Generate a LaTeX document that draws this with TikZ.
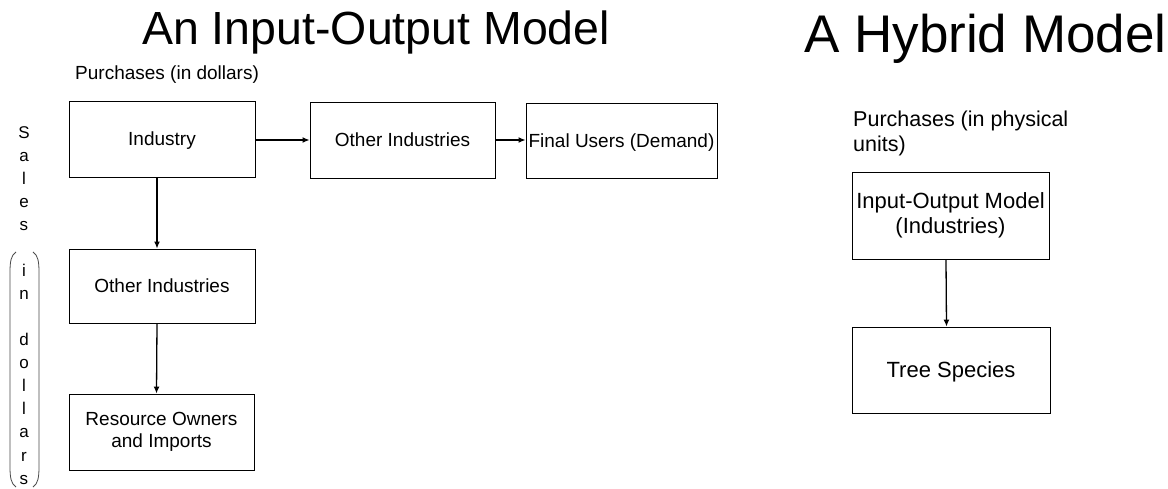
\documentclass[tikz,border=0pt]{standalone}
\usepackage{fontspec}
\setmainfont{Liberation Sans}
\usetikzlibrary{arrows.meta}
\begin{document}
\begin{tikzpicture}[x=1pt,y=-1pt,
  box/.style={draw=black,line width=0.9pt,inner sep=0pt,font=\fontsize{19}{22}\selectfont},
  sbox/.style={box,text height=17pt,text depth=3pt},
  mbox/.style={box,align=center},
  rsbox/.style={box,font=\fontsize{22}{25}\selectfont,text height=19.5pt,text depth=3.75pt},
  rmbox/.style={box,align=center,font=\fontsize{22}{25}\selectfont},
  arr/.style={line width=1.3pt,-{Latex[length=7pt,width=6pt]}},
  brk/.style={draw=black!70,line width=0.8pt}]
\fill[white] (0,0) rectangle (1168,489);
\useasboundingbox (0,0) rectangle (1168,489);
% titles
\node[anchor=base west,inner sep=0pt,font=\fontsize{46.5}{50}\selectfont] (t1) at (142,45) {An Input-Output Model};
\node[anchor=base west,inner sep=0pt,font=\fontsize{53}{57}\selectfont] (t2) at (804,53) {A Hybrid Model};
% purchases labels
\node[anchor=base west,inner sep=0pt,font=\fontsize{19}{22}\selectfont] (p1) at (75,80) {Purchases (in dollars)};
\node[anchor=north west,inner sep=0pt,align=left,font=\fontsize{21.5}{25}\selectfont] (p2) at (853,111) {Purchases (in physical\\units)};
% boxes left
\node[sbox,minimum width=186pt,minimum height=76pt] (ind) at (162,139) {Industry};
\node[sbox,minimum width=185pt,minimum height=76pt] (oth1) at (402.5,140) {Other Industries};
\node[sbox,minimum width=191pt,minimum height=75pt] (fin) at (621.5,140.5) {Final Users (Demand)};
\node[sbox,minimum width=186pt,minimum height=74pt] (oth2) at (162,286) {Other Industries};
\node[mbox,minimum width=185pt,minimum height=76pt] (res) at (161.5,432) {Resource Owners\\and Imports};
% boxes right
\node[rmbox,minimum width=197pt,minimum height=87pt] (iom) at (950.5,215.5) {Input-Output Model\\(Industries)};
\node[rsbox,minimum width=198pt,minimum height=86pt] (tree) at (951,370) {Tree Species};
% arrows
\draw[arr] (ind.east |- oth1.west) -- (oth1.west);
\draw[arr] (oth1.east) -- (fin.west |- oth1.east);
\draw[arr] ([xshift=-5pt]ind.south) -- ([xshift=-5pt]oth2.north);
\draw[arr] ([xshift=-5pt]oth2.south) -- ([xshift=-5pt]res.north);
\draw[arr] ([xshift=-4.5pt]iom.south) -- ([xshift=-4.5pt]tree.south |- tree.north);
% sales label
\node[anchor=north,inner sep=0pt,align=center,font=\fontsize{17}{23.07}\selectfont] (sales) at (24,126)
  {S\\a\\l\\e\\s\\[23.07pt]i\\n\\[23.07pt]d\\o\\l\\l\\a\\r\\s};
% brackets
\draw[brk] (16,252) .. controls (11,255) and (10,262) .. (10,272) -- (10,467) .. controls (10,477) and (11,484) .. (16,487);
\draw[brk] (33,252) .. controls (38,255) and (39,262) .. (39,272) -- (39,467) .. controls (39,477) and (38,484) .. (33,487);
\end{tikzpicture}
\end{document}
